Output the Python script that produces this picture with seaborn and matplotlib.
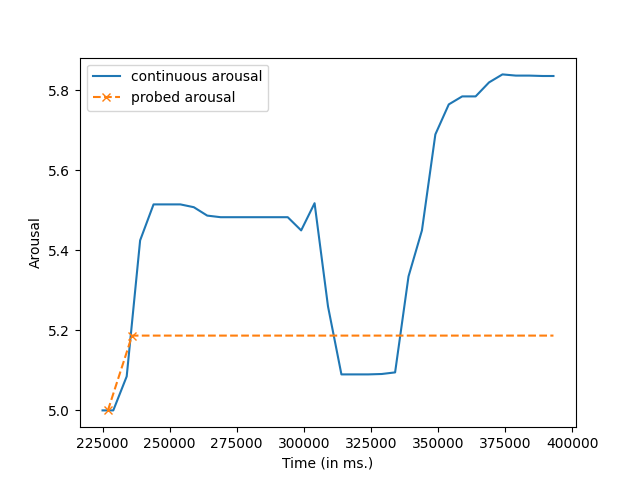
import matplotlib
matplotlib.use("Agg")
import matplotlib.pyplot as plt
import seaborn as sns

cont_t = [225000, 229000, 234000, 239000, 244000, 249000, 254000, 259000, 264000, 269000,
          274000, 279000, 284000, 289000, 294000, 299000, 304000, 309000, 314000, 319000,
          324000, 329000, 334000, 339000, 344000, 349000, 354000, 359000, 364000, 369000,
          374000, 379000, 384000, 389000, 393000]
cont_v = [5.0, 5.0, 5.085, 5.425, 5.515, 5.515, 5.515, 5.508, 5.487, 5.483,
          5.483, 5.483, 5.483, 5.483, 5.483, 5.45, 5.518, 5.26, 5.09, 5.09,
          5.09, 5.091, 5.095, 5.335, 5.45, 5.69, 5.765, 5.785, 5.785, 5.82,
          5.84, 5.837, 5.837, 5.836, 5.836]
probe_t = [227000, 236000, 393000]
probe_v = [5.0, 5.187, 5.187]

fig, ax = plt.subplots(figsize=(6.4, 4.8), dpi=100)
sns.lineplot(x=cont_t, y=cont_v, ax=ax, color="#1f77b4", label="continuous arousal")
ax.plot(probe_t, probe_v, color="#ff7f0e", linestyle="--", marker="x", markevery=[0, 1],
        label="probed arousal")
ax.set_xlabel("Time (in ms.)")
ax.set_ylabel("Arousal")
ax.legend(loc="upper left")
fig.savefig("out.png")
